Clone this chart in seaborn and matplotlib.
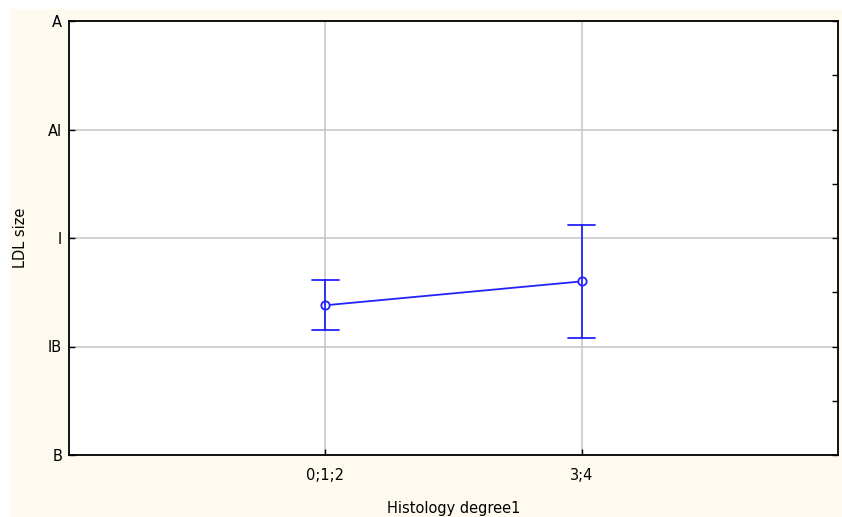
import numpy as np
import pandas as pd
import matplotlib
matplotlib.use("Agg")
import matplotlib.pyplot as plt
import seaborn as sns
from matplotlib.patches import Rectangle

# ---- data ----
categories = ["0;1;2", "3;4"]
means = [1.38, 1.60]          # on a 0..4 scale: B=0, IB=1, I=2, AI=3, A=4
ci_half = [0.23, 0.52]
ytick_labels = ["B", "IB", "I", "AI", "A"]
ytick_values = [0, 1, 2, 3, 4]
x_label = "Histology degree1"
y_label = "LDL size"

# long-form table: lower and upper bound per category -> mean = midpoint, range = CI
rows = []
for c, m, h in zip(categories, means, ci_half):
    rows.append({"group": c, "value": m - h})
    rows.append({"group": c, "value": m + h})
df = pd.DataFrame(rows)

sns.set_theme(style="white")
plt.rcParams["font.family"] = ["DejaVu Sans"]

cream = "#fefaf0"
blue = "#2222ff"
fs = 10.5

fig = plt.figure(figsize=(8.42, 5.17), dpi=100, facecolor=cream)
# white border strips on top/left as in the reference
fig.patches.append(Rectangle((0, 0), 10 / 842, 1, transform=fig.transFigure,
                             facecolor="white", edgecolor="none", zorder=-1))
fig.patches.append(Rectangle((0, 1 - 9 / 517), 1, 9 / 517, transform=fig.transFigure,
                             facecolor="white", edgecolor="none", zorder=-1))

ax = fig.add_axes([69 / 842, 1 - 455 / 517, (838 - 69) / 842, (455 - 21) / 517])
ax.set_facecolor("white")

sns.pointplot(data=df, x="group", y="value", order=categories,
              estimator="mean", errorbar=lambda v: (v.min(), v.max()),
              color=blue, capsize=0.105, markers="o", linestyles="-",
              err_kws={"linewidth": 1.3}, ax=ax)

for ln in ax.lines:
    ln.set_linewidth(1.3)
    if ln.get_marker() not in (None, "None", ""):
        ln.set_markersize(6)
        ln.set_markerfacecolor("white")
        ln.set_markeredgecolor(blue)
        ln.set_markeredgewidth(1.3)
for coll in ax.collections:
    coll.set_facecolor("white")
    coll.set_edgecolor(blue)
    coll.set_linewidth(1.3)
    coll.set_sizes([36])
    coll.set_zorder(5)

ax.set_xlim(-1, 2)
ax.set_ylim(0, 4)
ax.set_yticks(ytick_values)
ax.set_yticklabels(ytick_labels)
ax.set_yticks(np.arange(0.5, 4, 1), minor=True)

ax.grid(True, which="major", color="#c8c8c8", linewidth=1.2)
ax.set_axisbelow(True)

ax.tick_params(axis="both", which="major", direction="in", length=4, width=1,
               color="black", labelsize=fs, labelcolor="black")
ax.tick_params(axis="y", which="major", left=True, right=True, pad=5)
ax.tick_params(axis="y", which="minor", left=False, right=True, direction="in",
               length=4, width=1, color="black")
ax.tick_params(axis="x", which="major", bottom=True, top=False, pad=9)

for s in ax.spines.values():
    s.set_color("black")
    s.set_linewidth(1.3)
    s.set_visible(True)

ax.set_xlabel(x_label, fontsize=fs, color="black", labelpad=13)
ax.set_ylabel(y_label, fontsize=fs, color="black", labelpad=14)

fig.savefig("out.png", dpi=100, facecolor=cream)
